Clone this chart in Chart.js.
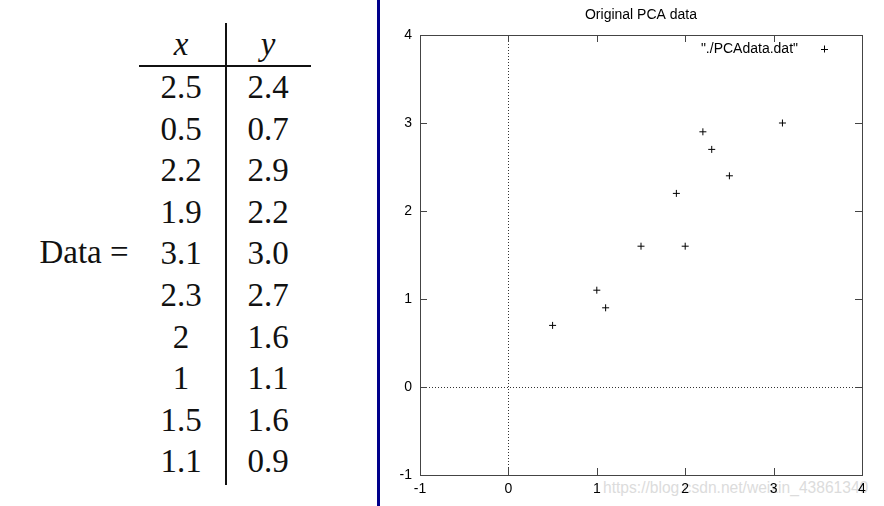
<!DOCTYPE html>
<html>
<head>
<meta charset="utf-8">
<script src="https://cdn.jsdelivr.net/npm/chart.js@4.4.1/dist/chart.umd.min.js"></script>
<style>
  html, body { margin: 0; padding: 0; background: #fff; }
  body { width: 884px; height: 506px; position: relative; overflow: hidden; }
  .tex { position: absolute; font-family: "Liberation Serif", "Times New Roman", serif; font-size: 33px; color: #111; line-height: 1; transform: translate(-50%, -50%); white-space: nowrap; }
  .rule { position: absolute; background: #111; }
  #divider { position: absolute; left: 377px; top: 0; width: 3px; height: 506px; background: #00008b; }
  #chart-box { position: absolute; left: 381px; top: 0; width: 503px; height: 506px; z-index: 2; }
  #mark { position: absolute; left: 603px; top: 480px; font: 15.6px "Liberation Sans", Arial, sans-serif; color: #dcdcdc; z-index: 1; line-height: 1; }
</style>
</head>
<body>
<div id="table"></div>
<div id="divider"></div>
<div id="mark">https://blog.csdn.net/weixin_43861340</div>
<div id="chart-box"><canvas id="pca"></canvas></div>
<script>
// ==========================================
// 1. DATA
// ==========================================
const xLabels = ['2.5', '0.5', '2.2', '1.9', '3.1', '2.3', '2', '1', '1.5', '1.1'];
const yLabels = ['2.4', '0.7', '2.9', '2.2', '3.0', '2.7', '1.6', '1.1', '1.6', '0.9'];
const xValues = xLabels.map(Number);
const yValues = yLabels.map(Number);
const axisTicks = [-1, 0, 1, 2, 3, 4];
const seriesName = '"./PCAdata.dat"';
const chartTitle = 'Original PCA data';

// ==========================================
// 2. LEFT SIDE: THE "Data =" TABLE
// ==========================================
const table = document.getElementById('table');
function texText(txt, x, y, italic) {
    const el = document.createElement('div');
    el.className = 'tex';
    el.textContent = txt;
    el.style.left = x + 'px';
    el.style.top = y + 'px';
    if (italic) el.style.fontStyle = 'italic';
    table.appendChild(el);
}
texText('x', 181, 44, true);
texText('y', 268, 44, true);
xLabels.forEach((v, i) => {
    texText(v, 181, 87 + i * 41.6);
    texText(yLabels[i], 268, 87 + i * 41.6);
});
texText('Data =', 84, 252);

let hr = document.createElement('div');
hr.className = 'rule';
hr.style.cssText = 'left:139px;top:65px;width:172px;height:2px;';
table.appendChild(hr);
let vr = document.createElement('div');
vr.className = 'rule';
vr.style.cssText = 'left:225px;top:23px;width:2px;height:462px;';
table.appendChild(vr);

// ==========================================
// 3. GNUPLOT-STYLE FRAME PLUGIN
// ==========================================
const gnuFrame = {
    id: 'gnuFrame',
    beforeDatasetsDraw(chart) {
        const { ctx, chartArea: a, scales: { x, y } } = chart;
        ctx.save();
        ctx.strokeStyle = '#333';
        ctx.lineWidth = 1;
        ctx.setLineDash([1, 2]);
        const x0 = Math.round(x.getPixelForValue(0)) + 0.5;
        const y0 = Math.round(y.getPixelForValue(0)) + 0.5;
        ctx.beginPath();
        ctx.moveTo(x0, a.top); ctx.lineTo(x0, a.bottom);
        ctx.moveTo(a.left, y0); ctx.lineTo(a.right, y0);
        ctx.stroke();
        ctx.restore();
    },
    afterDraw(chart) {
        const { ctx, chartArea: a, scales: { x, y } } = chart;
        ctx.save();
        ctx.strokeStyle = '#444';
        ctx.lineWidth = 1;
        ctx.strokeRect(Math.round(a.left) + 0.5, Math.round(a.top) + 0.5,
            Math.round(a.right - a.left), Math.round(a.bottom - a.top));
        // inward ticks, mirrored on top and right
        ctx.beginPath();
        axisTicks.forEach(t => {
            const px = Math.round(x.getPixelForValue(t)) + 0.5;
            ctx.moveTo(px, a.bottom); ctx.lineTo(px, a.bottom - 7);
            ctx.moveTo(px, a.top); ctx.lineTo(px, a.top + 7);
            const py = Math.round(y.getPixelForValue(t)) + 0.5;
            ctx.moveTo(a.left, py); ctx.lineTo(a.left + 7, py);
            ctx.moveTo(a.right, py); ctx.lineTo(a.right - 7, py);
        });
        ctx.stroke();

        // key in the top right corner
        const ky = a.top + 14;
        ctx.fillStyle = '#000';
        ctx.font = '14px "Liberation Sans", Arial, sans-serif';
        ctx.textAlign = 'right';
        ctx.textBaseline = 'middle';
        ctx.fillText(chart.data.datasets[0].label, a.right - 64, ky);
        ctx.strokeStyle = '#000';
        ctx.beginPath();
        const kx = Math.round(a.right - 38) + 0.5;
        ctx.moveTo(kx - 3.5, Math.round(ky) + 0.5); ctx.lineTo(kx + 3.5, Math.round(ky) + 0.5);
        ctx.moveTo(kx, ky - 3.5); ctx.lineTo(kx, ky + 3.5);
        ctx.stroke();
        ctx.restore();
    }
};

// ==========================================
// 4. CHART.JS SCATTER
// ==========================================
const tickFont = { family: '"Liberation Sans", Arial, sans-serif', size: 14 };
new Chart(document.getElementById('pca'), {
    type: 'scatter',
    data: {
        datasets: [{
            label: seriesName,
            data: xValues.map((v, i) => ({ x: v, y: yValues[i] })),
            pointStyle: 'cross',
            pointRadius: 3.5,
            pointBorderColor: '#000',
            pointBorderWidth: 1,
            pointHoverRadius: 3.5
        }]
    },
    options: {
        responsive: true,
        maintainAspectRatio: false,
        animation: false,
        layout: { padding: { left: 0, right: 22, top: 0, bottom: 0 } },
        plugins: {
            legend: { display: false },
            tooltip: { enabled: false },
            title: {
                display: true,
                fullSize: false,
                text: chartTitle,
                color: '#000',
                font: { family: '"Liberation Sans", Arial, sans-serif', size: 14, weight: 'normal' },
                padding: { top: 7, bottom: 11.2 }
            }
        },
        scales: {
            x: {
                type: 'linear',
                min: -1, max: 4,
                afterBuildTicks: s => { s.ticks = axisTicks.map(v => ({ value: v })); },
                afterFit: s => { s.height = 31; },
                grid: { display: false, drawTicks: false },
                border: { display: false },
                ticks: { color: '#000', font: tickFont, padding: 6, maxRotation: 0 }
            },
            y: {
                type: 'linear',
                min: -1, max: 4,
                afterBuildTicks: s => { s.ticks = axisTicks.map(v => ({ value: v })); },
                afterFit: s => { s.width = 39; },
                grid: { display: false, drawTicks: false },
                border: { display: false },
                ticks: { color: '#000', font: tickFont, padding: 8 }
            }
        }
    },
    plugins: [gnuFrame]
});
</script>
</body>
</html>
